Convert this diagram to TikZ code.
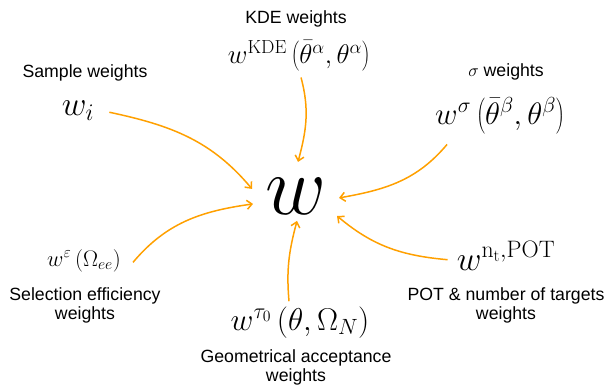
\documentclass[tikz,border=0pt]{standalone}
\usepackage{fix-cm}
\usepackage[no-math]{fontspec}
\setmainfont{Liberation Sans}
\usetikzlibrary{arrows.meta}
\definecolor{flowor}{RGB}{255,160,0}
\begin{document}
\begin{tikzpicture}[x=1pt, y=-1pt, font=\fontsize{17.7}{19}\selectfont,
          lbl/.style={anchor=base, align=center},
          eq/.style={anchor=base, inner sep=0pt},
          flow/.style={draw=flowor, line width=1.5pt, -{Straight Barb[length=5pt, width=9pt]}}]
        \useasboundingbox (0,0) rectangle (605,386);
        \node[eq, font=\fontsize{84}{90}\selectfont] (w) at (296,214) {$w$};
        \node[lbl] (kdelbl) at (296,23) {KDE weights};
        \node[eq, font=\fontsize{27}{30}\selectfont] (kde) at (299,63) {$w^{\mathrm{KDE}}\left(\bar{\theta}^{\alpha}, \theta^{\alpha}\right)$};
        \node[lbl] (smplbl) at (85,77) {Sample weights};
        \node[eq, font=\fontsize{34}{38}\selectfont] (wi) at (78,115) {$w_i$};
        \node[lbl] (siglbl) at (506,76) {$\sigma$ weights};
        \node[eq, font=\fontsize{31}{34}\selectfont] (sig) at (500,124) {$w^{\sigma}\left(\bar{\theta}^{\beta}, \theta^{\beta}\right)$};
        \node[eq, font=\fontsize{22.5}{25}\selectfont] (eps) at (84,266) {$w^{\varepsilon}\left(\Omega_{ee}\right)$};
        \node[lbl] (epslbl) at (85,319) {Selection efficiency\\weights};
        \node[eq, font=\fontsize{31.5}{34}\selectfont] (tau) at (300,330) {$w^{\tau_0}\left(\theta, \Omega_N\right)$};
        \node[lbl] (taulbl) at (296,381) {Geometrical acceptance\\weights};
        \node[eq, font=\fontsize{34}{37}\selectfont] (pot) at (506,270) {$w^{\mathrm{n_t},\mathrm{POT}}$};
        \node[lbl] (potlbl) at (506,319) {POT \& number of targets\\weights};
        \draw[flow] ([shift={(15,2)}]wi.east) to[out=-12, in=130] ([shift={(-44,-7)}]w.center);
        \draw[flow] ([shift={(2,6)}]kde.south) to[out=-75, in=75] ([shift={(2,-34)}]w.center);
        \draw[flow] ([shift={(12,10)}]sig.south west) to[out=-130, in=10] ([shift={(43,2)}]w.center);
        \draw[flow] ([shift={(12,2)}]eps.east) to[out=50, in=188] ([shift={(-43,8)}]w.center);
        \draw[flow] ([shift={(-11,-5)}]tau.north) to[out=95, in=-105] ([shift={(1,25)}]w.center);
        \draw[flow] ([shift={(-9,4)}]pot.west) to[out=175, in=-40] ([shift={(41,20)}]w.center);
      \end{tikzpicture}
\end{document}
